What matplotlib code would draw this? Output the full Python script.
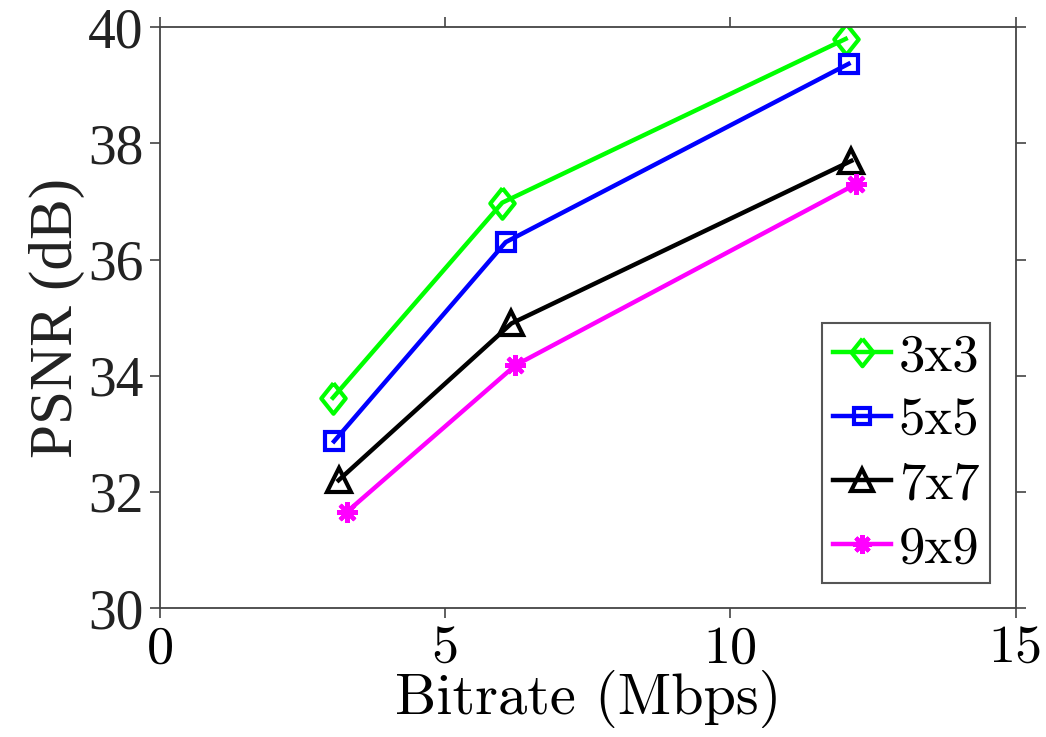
import matplotlib
matplotlib.use("Agg")
import matplotlib.pyplot as plt

plt.rcParams["font.family"] = "serif"
plt.rcParams["font.serif"] = ["cmr10"]
plt.rcParams["axes.formatter.use_mathtext"] = True

# data
bitrate_3x3 = [3.03, 6.0, 12.02]
psnr_3x3 = [33.62, 36.98, 39.8]
bitrate_5x5 = [3.05, 6.06, 12.07]
psnr_5x5 = [32.87, 36.3, 39.37]
bitrate_7x7 = [3.13, 6.16, 12.12]
psnr_7x7 = [32.2, 34.9, 37.7]
bitrate_9x9 = [3.27, 6.23, 12.2]
psnr_9x9 = [31.65, 34.18, 37.3]
labels = ["3x3", "5x5", "7x7", "9x9"]

xticks = [0, 5, 10, 15]
yticks = [30, 32, 34, 36, 38, 40]

# tall diamond like matlab's
diamond = [(0, 1), (0.8, 0), (0, -1), (-0.8, 0), (0, 1)]

fig = plt.figure(figsize=(10.46, 7.37), dpi=100)
ax = fig.add_axes([0.153, 0.175, 0.818, 0.788])

lw = 3.2
ax.plot(bitrate_3x3, psnr_3x3, color="#00ff00", lw=lw, marker=diamond, ms=22,
        mfc="none", mew=3, label=labels[0])
ax.plot(bitrate_5x5, psnr_5x5, color="#0000ff", lw=lw, marker="s", ms=13,
        mfc="none", mew=3, label=labels[1])
ax.plot(bitrate_7x7, psnr_7x7, color="black", lw=lw, marker="^", ms=17,
        mfc="none", mew=3, label=labels[2])
ax.plot(bitrate_9x9, psnr_9x9, color="#ff00ff", lw=lw, marker=(8, 2, 0), ms=15,
        mfc="none", mew=3, label=labels[3])

ax.set_xlim(0, 15)
ax.set_ylim(30, 40)
ax.set_xticks(xticks)
ax.set_yticks(yticks)
ax.set_xticklabels([str(v) for v in xticks], fontsize=39)
ax.set_yticklabels([str(v) for v in yticks], fontsize=40,
                   family="Liberation Serif", color="#222222")
ax.tick_params(direction="out", length=7, width=1.2, color="#444444",
               top=True, right=True)
ax.tick_params(axis="x", pad=6)
ax.tick_params(axis="y", pad=5)
for s in ax.spines.values():
    s.set_color("#444444")
    s.set_linewidth(1.3)

ax.set_xlabel("Bitrate (Mbps)", fontsize=42, labelpad=-2)
ax.set_ylabel("PSNR (dB)", fontsize=44, family="Liberation Serif",
              color="#222222", labelpad=2)

leg = ax.legend(loc="lower right", bbox_to_anchor=(0.97, 0.043), fontsize=38,
                handlelength=1.1, handletextpad=0.15, borderpad=0.2,
                borderaxespad=0, labelspacing=0.32, fancybox=False,
                framealpha=1, edgecolor="#555555", markerscale=0.9)
leg.get_frame().set_linewidth(1.5)

fig.savefig("out.png", dpi=100)
